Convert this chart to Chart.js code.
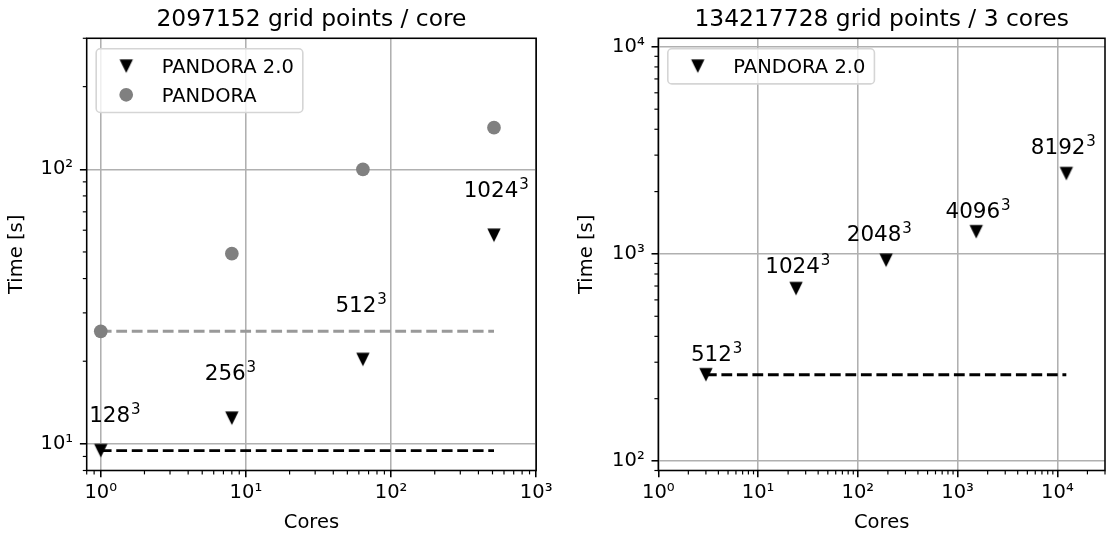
<!DOCTYPE html>
<html><head><meta charset="utf-8">
<script src="https://cdn.jsdelivr.net/npm/chart.js@4.4.1/dist/chart.umd.min.js"></script>
<style>
html,body{margin:0;padding:0;background:#fff;width:1113px;height:536px;overflow:hidden}
canvas{position:absolute;top:0}
#c1{left:0}
#c2{left:556px}
</style></head><body>
<canvas id="c1" width="556" height="536"></canvas>
<canvas id="c2" width="557" height="536"></canvas>
<script>
// ---------------- data ----------------
const seriesNames = ['PANDORA 2.0', 'PANDORA'];
const gridExponent = '3';

// left panel: weak scaling
const weakTitle = '2097152 grid points / core';
const weakCores = [1, 8, 64, 512];
const weakPandora2 = [9.45, 12.4, 20.3, 57.5];
const weakPandora = [25.7, 49.3, 100, 141.8];
const weakSizes = ['128', '256', '512', '1024'];
const weakLabelX = [1.25, 7.82, 62.2, 530];
const weakLabelY = [12.8, 18.2, 32.3, 84.6];
const weakXRange = [0.8, 1000];
const weakYRange = [8, 300];
const weakXTicks = [1, 10, 100, 1000];
const weakXTickLabels = ['10⁰', '10¹', '10²', '10³'];
const weakYTicks = [10, 100];
const weakYTickLabels = ['10¹', '10²'];

// right panel: strong-ish scaling
const strongTitle = '134217728 grid points / 3 cores';
const strongCores = [3, 24, 192, 1536, 12288];
const strongPandora2 = [261, 680, 932, 1280, 2443];
const strongSizes = ['512', '1024', '2048', '4096', '8192'];
const strongLabelX = [3.84, 25, 164, 1600, 11460];
const strongLabelY = [331, 882, 1255, 1626, 3312];
const strongXRange = [1, 30000];
const strongYRange = [90, 11000];
const strongXTicks = [1, 10, 100, 1000, 10000];
const strongXTickLabels = ['10⁰', '10¹', '10²', '10³', '10⁴'];
const strongYTicks = [100, 1000, 10000];
const strongYTickLabels = ['10²', '10³', '10⁴'];

// ---------------- styling ----------------
const FONT = "'DejaVu Sans'";
const GRID = '#b0b0b0';
const GRAY = '#808080';
const GRAY_LINE = '#999999';
Chart.defaults.font.family = FONT;
Chart.defaults.color = '#000';

function triangleImage(size, color) {
  const w = Math.ceil(size) + 2;
  const c = document.createElement('canvas');
  c.width = w; c.height = w;
  const g = c.getContext('2d');
  const h = size / 2, m = w / 2;
  g.beginPath();
  g.moveTo(m - h, m - h); g.lineTo(m + h, m - h); g.lineTo(m, m + h);
  g.closePath(); g.fillStyle = color; g.fill();
  return c;
}
const TRI = triangleImage(13.4, '#000');

function xy(xs, ys) { return xs.map((x, i) => ({x: x, y: ys[i]})); }
function refLine(xs, ys) { return [{x: xs[0], y: ys[0]}, {x: xs[xs.length - 1], y: ys[0]}]; }
function isMajor(v, majors) { return v != null && majors.some(m => Math.abs(v - m) / m < 1e-9); }
function logTicks(min, max) {
  const out = [];
  const e0 = Math.floor(Math.log10(min)), e1 = Math.ceil(Math.log10(max));
  for (let e = e0; e <= e1; e++) for (let m = 1; m <= 9; m++) {
    const v = m * Math.pow(10, e);
    if (v >= min * (1 - 1e-9) && v <= max * (1 + 1e-9)) out.push(v);
  }
  return out;
}

function axis(range, majors, labels, horizontal, fitSize, titleText, titlePad) {
  return {
    type: 'logarithmic',
    min: range[0], max: range[1],
    afterBuildTicks: s => { s.ticks = logTicks(s.min, s.max).map(v => ({value: v})); },
    afterFit: s => { if (horizontal) s.height = fitSize; else s.width = fitSize; },
    border: {display: false},
    grid: {
      color: c => isMajor(c.tick && c.tick.value, majors) ? GRID : 'rgba(0,0,0,0)',
      lineWidth: 1.56,
      drawTicks: true,
      tickLength: 6.8,
      tickWidth: 1.56,
      tickColor: c => isMajor(c.tick && c.tick.value, majors) ? '#000' : 'rgba(0,0,0,0)'
    },
    ticks: {
      autoSkip: false, maxRotation: 0, minRotation: 0,
      padding: horizontal ? 3.5 : 6.8,
      font: {size: 19.5, family: FONT},
      color: '#000',
      callback: v => { const i = majors.findIndex(m => Math.abs(v - m) / m < 1e-9); return i >= 0 ? labels[i] : ''; }
    },
    title: {display: true, text: titleText, color: '#000', font: {size: 19.5, family: FONT}, padding: titlePad}
  };
}

const decor = {
  id: 'decor',
  afterDraw(chart, args, opts) {
    const ctx = chart.ctx, ca = chart.chartArea;
    const xs = chart.scales.x, ys = chart.scales.y;
    ctx.save();
    // minor ticks
    ctx.strokeStyle = '#000'; ctx.lineWidth = 1.17;
    xs.ticks.forEach(t => {
      if (isMajor(t.value, opts.xMajors)) return;
      const p = xs.getPixelForValue(t.value);
      ctx.beginPath(); ctx.moveTo(p, ca.bottom); ctx.lineTo(p, ca.bottom + 3.9); ctx.stroke();
    });
    ys.ticks.forEach(t => {
      if (isMajor(t.value, opts.yMajors)) return;
      const p = ys.getPixelForValue(t.value);
      ctx.beginPath(); ctx.moveTo(ca.left, p); ctx.lineTo(ca.left - 3.9, p); ctx.stroke();
    });
    // frame (spines)
    ctx.lineWidth = 1.56; ctx.strokeStyle = '#000';
    ctx.strokeRect(ca.left, ca.top, ca.right - ca.left, ca.bottom - ca.top);
    // size annotations
    opts.labels.forEach((txt, i) => {
      ctx.font = '21.5px ' + FONT;
      const mw = ctx.measureText(txt).width;
      ctx.font = '15px ' + FONT;
      const sw = ctx.measureText(gridExponent).width;
      const total = mw + 0.8 + sw;
      const cx = xs.getPixelForValue(opts.labelX[i]);
      const cy = ys.getPixelForValue(opts.labelY[i]);
      const x0 = cx - total / 2;
      const base = cy + 0.3645 * 21.5;
      ctx.fillStyle = '#000'; ctx.textAlign = 'left'; ctx.textBaseline = 'alphabetic';
      ctx.font = '21.5px ' + FONT;
      ctx.fillText(txt, x0, base);
      ctx.font = '15px ' + FONT;
      ctx.fillText(gridExponent, x0 + mw + 0.8, base - 8.3);
    });
    // legend
    const items = chart.data.datasets.filter(d => d.inLegend);
    ctx.font = '19.5px ' + FONT;
    const tw = Math.max(...items.map(d => ctx.measureText(d.label).width));
    const bx = ca.left + 9.5, by = ca.top + 10.5;
    const bw = 65.5 + tw + 9, bh = 6.5 + 28.6 * items.length;
    ctx.beginPath();
    ctx.roundRect(bx, by, bw, bh, 4);
    ctx.fillStyle = 'rgba(255,255,255,0.8)'; ctx.fill();
    ctx.strokeStyle = '#d5d5d5'; ctx.lineWidth = 1.6; ctx.stroke();
    items.forEach((d, i) => {
      const ry = by + 17.4 + 28.6 * i;
      const mx = bx + 30;
      if (d.pointStyle === TRI) {
        ctx.drawImage(TRI, mx - TRI.width / 2, ry - TRI.height / 2);
      } else {
        ctx.beginPath(); ctx.arc(mx, ry, 6.85, 0, Math.PI * 2);
        ctx.fillStyle = d.backgroundColor; ctx.fill();
      }
      ctx.fillStyle = '#000'; ctx.textBaseline = 'alphabetic'; ctx.textAlign = 'left';
      ctx.fillText(d.label, bx + 65.5, ry + 0.3645 * 19.5);
    });
    ctx.restore();
  }
};

function makeChart(id, cfg) {
  const datasets = [
    {label: seriesNames[0], data: xy(cfg.cores, cfg.p2), pointStyle: TRI, pointRadius: 7, showLine: false, inLegend: true, backgroundColor: '#000', borderColor: '#000'}
  ];
  if (cfg.p1) {
    datasets.push({label: seriesNames[1], data: xy(cfg.cores, cfg.p1), pointStyle: 'circle', pointRadius: 6.85, pointBorderWidth: 0, showLine: false, inLegend: true, backgroundColor: GRAY, borderColor: GRAY});
  }
  datasets.push({label: 'ref2', data: refLine(cfg.cores, cfg.p2), showLine: true, borderColor: '#000', borderWidth: 2.9, borderDash: [10.8, 4.7], pointRadius: 0, fill: false});
  if (cfg.p1) {
    datasets.push({label: 'ref1', data: refLine(cfg.cores, cfg.p1), showLine: true, borderColor: GRAY_LINE, borderWidth: 2.9, borderDash: [10.8, 4.7], pointRadius: 0, fill: false});
  }
  return new Chart(document.getElementById(id), {
    type: 'scatter',
    data: {datasets},
    options: {
      responsive: false, animation: false, events: [],
      layout: {padding: {left: 0, right: cfg.padRight, top: 0, bottom: 0}},
      plugins: {
        legend: {display: false}, tooltip: {enabled: false},
        title: {display: true, text: cfg.title, fullSize: false, color: '#000', font: {size: 23.4, weight: 'normal', family: FONT}, padding: {top: 5.5, bottom: 4.7}},
        decor: {xMajors: cfg.xTicks, yMajors: cfg.yTicks, labels: cfg.sizes, labelX: cfg.labelX, labelY: cfg.labelY}
      },
      scales: {
        x: axis(cfg.xRange, cfg.xTicks, cfg.xTickLabels, true, 65.5, 'Cores', {top: 0, bottom: 1.5}),
        y: axis(cfg.yRange, cfg.yTicks, cfg.yTickLabels, false, cfg.yWidth, 'Time [s]', {top: cfg.yTitlePad, bottom: 0})
      }
    },
    plugins: [decor]
  });
}

makeChart('c1', {
  title: weakTitle, cores: weakCores, p2: weakPandora2, p1: weakPandora, sizes: weakSizes,
  labelX: weakLabelX, labelY: weakLabelY, xRange: weakXRange, yRange: weakYRange,
  xTicks: weakXTicks, xTickLabels: weakXTickLabels, yTicks: weakYTicks, yTickLabels: weakYTickLabels,
  padRight: 16.7, yWidth: 86.7, yTitlePad: 5.3
});
makeChart('c2', {
  title: strongTitle, cores: strongCores, p2: strongPandora2, p1: null, sizes: strongSizes,
  labelX: strongLabelX, labelY: strongLabelY, xRange: strongXRange, yRange: strongYRange,
  xTicks: strongXTicks, xTickLabels: strongXTickLabels, yTicks: strongYTicks, yTickLabels: strongYTickLabels,
  padRight: 1.3, yWidth: 102.3, yTitlePad: 19.7
});
</script>
</body></html>
